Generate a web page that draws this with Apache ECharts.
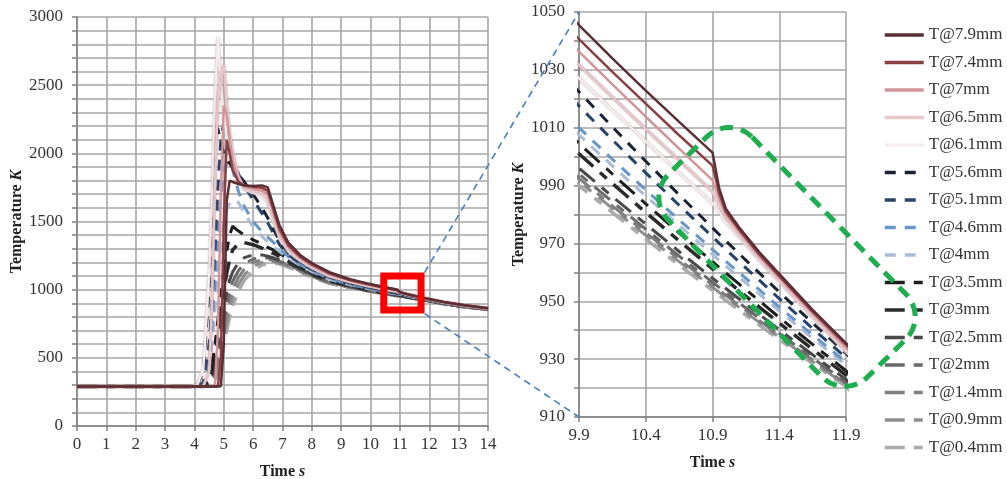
<!DOCTYPE html>
<html>
<head>
<meta charset="utf-8">
<script src="https://cdn.jsdelivr.net/npm/echarts@6/dist/echarts.min.js"></script>
<style>
  html, body { margin: 0; background: #fff; }
  #chart { width: 1007px; height: 479px; }
</style>
</head>
<body>
<div id="chart"></div>
<script>
// time points (s) shared by every curve
const times = [0, 3.9, 4.1, 4.3, 4.5, 4.6, 4.7, 4.8, 4.9, 5.0,
  5.1, 5.2, 5.3, 5.5, 5.7, 6.0, 6.3, 6.5, 6.7, 6.9,
  7.2, 7.6, 8.0, 8.6, 9.3, 9.9, 10.15, 10.4, 10.65, 10.9,
  10.95, 11.0, 11.1, 11.25, 11.4, 11.65, 11.9, 12.5, 13.2, 14];

// temperature (K) at each depth
const t7_9 = [290, 290, 290, 290, 290, 290, 290, 290, 292, 600,
  1650, 1800, 1790, 1775, 1765, 1760, 1765, 1750, 1610, 1470,
  1345, 1255, 1195, 1128, 1076, 1045.5, 1034, 1022.8, 1012, 1001.4,
  989, 982, 975.5, 967, 959.5, 947, 935.5, 910, 886, 864];
const t7_4 = [290, 290, 290, 290, 290, 290, 290, 292, 500, 1500,
  2100, 2000, 1880, 1790, 1765, 1755, 1748, 1725, 1585, 1445,
  1325, 1242, 1185, 1120, 1071, 1040.6, 1029.3, 1018.3, 1007.4, 996.9,
  987.5, 981, 974.8, 966.3, 958.8, 946.4, 935, 908.5, 885, 863];
const t7 = [290, 290, 290, 290, 290, 290, 300, 700, 1700, 2350,
  2280, 2100, 1950, 1800, 1755, 1740, 1728, 1700, 1555, 1420,
  1310, 1232, 1176, 1112, 1066, 1036.3, 1025, 1013.8, 1002.8, 991.9,
  985.5, 980, 974, 965.6, 958.2, 945.8, 934, 907.5, 884, 862];
const t6_5 = [290, 290, 290, 292, 400, 900, 1800, 2400, 2560, 2650,
  2350, 2150, 2010, 1830, 1745, 1725, 1708, 1670, 1525, 1400,
  1295, 1222, 1168, 1105, 1061, 1031.7, 1020.6, 1009.6, 998.7, 987.9,
  983.5, 979, 973.2, 965, 957.5, 945, 933, 906.5, 883, 861];
const t6_1 = [290, 290, 300, 420, 1100, 1700, 2400, 2850, 2500, 2280,
  2130, 2020, 1930, 1800, 1735, 1710, 1688, 1640, 1495, 1380,
  1280, 1212, 1160, 1098, 1056, 1027.1, 1016.1, 1005.3, 994.5, 983.9,
  981, 977.5, 972.2, 964.2, 956.8, 944.4, 932.5, 905.5, 882, 860];
const t5_6 = [290, 290, 295, 400, 1000, 1600, 2200, 2180, 2080, 2000,
  1960, 1925, 1895, 1845, 1790, 1700, 1600, 1525, 1440, 1355,
  1268, 1205, 1158, 1098, 1053, 1022.4, 1010.3, 998.4, 986.8, 975.4,
  973.1, 970.9, 966.4, 959.8, 953.2, 942.5, 932, 904, 881, 859.5];
const t5_1 = [290, 290, 290, 320, 600, 900, 1300, 1750, 2100, 2230,
  2200, 2080, 1960, 1850, 1760, 1660, 1560, 1490, 1410, 1330,
  1255, 1193, 1148, 1090, 1046, 1017.5, 1005.8, 994.4, 983.2, 972.3,
  970.1, 967.9, 963.6, 957.3, 950.9, 940.6, 930.5, 902.5, 880, 859];
const t4_6 = [290, 290, 290, 310, 500, 750, 1050, 1400, 1700, 1850,
  1930, 1950, 1880, 1720, 1610, 1500, 1425, 1385, 1345, 1300,
  1242, 1184, 1138, 1080, 1038, 1010, 999.1, 988.5, 978.1, 967.9,
  965.9, 963.8, 959.9, 954, 948, 938.4, 929, 901, 879, 858.5];
const t4 = [290, 290, 290, 305, 420, 600, 850, 1100, 1320, 1480,
  1580, 1640, 1660, 1640, 1560, 1460, 1390, 1350, 1315, 1280,
  1232, 1177, 1132, 1076, 1035, 1007.5, 996.8, 986.4, 976.2, 966.2,
  964.2, 962.2, 958.3, 952.5, 946.7, 937.2, 928, 900, 878, 858];
const t3_5 = [290, 290, 290, 300, 360, 450, 600, 780, 960, 1130,
  1280, 1400, 1465, 1430, 1400, 1365, 1335, 1310, 1290, 1265,
  1226, 1172, 1127, 1072, 1032, 1004.5, 994, 983.7, 973.6, 963.7,
  961.7, 959.8, 955.9, 950.2, 944.4, 935.1, 926, 899, 877, 857.5];
const t3 = [290, 290, 290, 295, 330, 400, 520, 670, 830, 990,
  1120, 1220, 1290, 1340, 1345, 1330, 1305, 1285, 1265, 1243,
  1208, 1160, 1117, 1065, 1028, 1001, 990.7, 980.7, 970.9, 961.2,
  959.3, 957.4, 953.6, 948, 942.5, 933.4, 924.5, 898, 876, 857];
const t2_5 = [290, 290, 290, 293, 315, 360, 450, 580, 720, 860,
  980, 1070, 1130, 1200, 1235, 1255, 1255, 1245, 1232, 1218,
  1192, 1150, 1110, 1060, 1022, 996, 986.2, 976.7, 967.2, 958,
  956.2, 954.4, 950.8, 945.5, 940.2, 931.5, 923, 897, 875, 856];
const t2 = [290, 290, 290, 291, 305, 340, 410, 520, 650, 780,
  900, 990, 1060, 1140, 1190, 1225, 1235, 1232, 1222, 1208,
  1183, 1143, 1104, 1055, 1019, 994, 984.4, 974.9, 965.6, 956.6,
  954.8, 953, 949.4, 944.2, 938.9, 930.4, 922, 896.5, 874.5, 855.5];
const t1_4 = [290, 290, 290, 290, 300, 325, 380, 470, 590, 710,
  830, 920, 1000, 1090, 1150, 1200, 1220, 1222, 1215, 1202,
  1178, 1138, 1100, 1052, 1017, 992.5, 983, 973.7, 964.5, 955.6,
  953.8, 952.1, 948.5, 943.4, 938.2, 929.7, 921.5, 896, 874, 855];
const t0_9 = [290, 290, 290, 290, 297, 315, 355, 430, 530, 650,
  760, 860, 940, 1040, 1110, 1170, 1200, 1208, 1205, 1195,
  1172, 1133, 1096, 1049, 1015, 991.5, 982.1, 972.8, 963.7, 954.8,
  953.1, 951.3, 947.9, 942.7, 937.6, 929.2, 921, 895.5, 873.5, 854.5];
const t0_4 = [290, 290, 290, 290, 295, 308, 335, 390, 480, 590,
  700, 800, 880, 990, 1070, 1140, 1180, 1195, 1196, 1188,
  1166, 1128, 1092, 1046, 1013, 990, 980.7, 971.5, 962.5, 953.8,
  952.1, 950.3, 946.9, 941.8, 936.8, 928.5, 920.5, 895, 873, 854];

const names = ['T@7.9mm', 'T@7.4mm', 'T@7mm', 'T@6.5mm', 'T@6.1mm',
  'T@5.6mm', 'T@5.1mm', 'T@4.6mm', 'T@4mm', 'T@3.5mm', 'T@3mm',
  'T@2.5mm', 'T@2mm', 'T@1.4mm', 'T@0.9mm', 'T@0.4mm'];
const curves = [t7_9, t7_4, t7, t6_5, t6_1, t5_6, t5_1, t4_6, t4,
  t3_5, t3, t2_5, t2, t1_4, t0_9, t0_4];

const dash = [11, 9];
const longDash = [20, 9, 9, 9];
const styles = [
  {color: '#5a2e33', width: 2.5, type: 'solid'},
  {color: '#8a3f44', width: 2.5, type: 'solid'},
  {color: '#d09499', width: 2.5, type: 'solid'},
  {color: '#e6c8cb', width: 2.5, type: 'solid', shadow: 'rgba(170,120,128,0.9)'},
  {color: '#f6ecee', width: 2.5, type: 'solid', shadow: 'rgba(170,150,155,0.9)'},
  {color: '#1b2333', width: 3, type: dash},
  {color: '#27436b', width: 3, type: dash},
  {color: '#6a95c8', width: 3, type: dash},
  {color: '#a9bcd6', width: 3, type: dash},
  {color: '#1e1e1e', width: 3, type: longDash},
  {color: '#2b2b2b', width: 3.5, type: longDash},
  {color: '#4a4a4a', width: 3, type: longDash},
  {color: '#6a6a6a', width: 3, type: longDash},
  {color: '#7f7f7f', width: 3, type: longDash},
  {color: '#8e8e8e', width: 3, type: longDash},
  {color: '#aaaaaa', width: 3.5, type: longDash}
];

const font = 'Liberation Serif, Times New Roman, serif';
const gridColor = '#a6a6a6';
const axisColor = '#808080';

function pairs(vals) {
  return times.map((t, i) => [t, vals[i]]);
}

const series = [];
for (let g = 0; g < 2; g++) {
  for (let i = curves.length - 1; i >= 0; i--) {
    const st = styles[i];
    const lineStyle = {color: st.color, width: st.width, type: st.type};
    if (st.shadow) {
      lineStyle.shadowColor = st.shadow;
      lineStyle.shadowBlur = 2;
    }
    series.push({
      name: names[i],
      type: 'line',
      xAxisIndex: g,
      yAxisIndex: g,
      symbol: 'none',
      clip: true,
      color: st.color,
      lineStyle: lineStyle,
      data: pairs(curves[i])
    });
  }
}
// red box on the left plot marking the zoomed window
series[0].markArea = {
  silent: true,
  z: 10,
  itemStyle: {color: 'rgba(0,0,0,0)', borderColor: '#ff0000', borderWidth: 7},
  data: [[{coord: [10.45, 1100]}, {coord: [11.72, 850]}]]
};

const nameRich = {
  b: {fontFamily: font, fontWeight: 'bold', fontSize: 16, color: '#222'},
  i: {fontFamily: font, fontWeight: 'bold', fontStyle: 'italic', fontSize: 16, color: '#222'}
};

function xAxis(grid, min, max, interval, gap) {
  return {
    type: 'value', gridIndex: grid, min: min, max: max, interval: interval,
    axisLine: {show: true, lineStyle: {color: axisColor, width: 1.5}},
    axisTick: {show: true, length: 5, lineStyle: {color: axisColor, width: 1.5}},
    axisLabel: {fontFamily: font, fontSize: 17, color: '#333', margin: 10,
                formatter: v => String(Math.round(v * 10) / 10)},
    splitLine: {show: true, lineStyle: {color: gridColor, width: 1.6}},
    name: '{b|Time }{i|s}', nameLocation: 'middle', nameGap: gap,
    nameTextStyle: {rich: nameRich}
  };
}
function yAxis(grid, min, max, interval, minor, gap) {
  return {
    type: 'value', gridIndex: grid, min: min, max: max, interval: interval,
    axisLine: {show: true, lineStyle: {color: axisColor, width: 1.5}},
    axisTick: {show: true, length: 5, lineStyle: {color: axisColor, width: 1.5}},
    minorTick: {show: true, splitNumber: minor, length: 5, lineStyle: {color: axisColor, width: 1.5}},
    minorSplitLine: {show: true, lineStyle: {color: gridColor, width: 1.6}},
    axisLabel: {fontFamily: font, fontSize: 17, color: '#333', margin: 14,
                formatter: v => String(Math.round(v))},
    splitLine: {show: true, lineStyle: {color: gridColor, width: 1.6}},
    name: '{b|Temperature }{i|K}', nameLocation: 'middle', nameGap: gap, nameRotate: 90,
    nameTextStyle: {rich: nameRich}
  };
}

const option = {
  animation: false,
  backgroundColor: '#fff',
  grid: [
    {left: 77, top: 17, width: 411, height: 409, outerBoundsMode: 'none'},
    {left: 579, top: 12, width: 267, height: 405, outerBoundsMode: 'none'}
  ],
  xAxis: [xAxis(0, 0, 14, 1, 38), xAxis(1, 9.9, 11.9, 0.5, 38)],
  yAxis: [yAxis(0, 0, 3000, 500, 5, 52), yAxis(1, 910, 1050, 20, 2, 52)],
  legend: {
    data: names,
    orient: 'vertical',
    left: 883,
    top: 26.5,
    padding: 0,
    itemWidth: 39,
    itemHeight: 16,
    itemGap: 10.5,
    itemStyle: {opacity: 0},
    lineStyle: {width: 3.5},
    textStyle: {fontFamily: font, fontSize: 17, color: '#333'}
  },
  series: series
};

const chart = echarts.init(document.getElementById('chart'));
chart.setOption(option);

// dashed connector lines from the red box to the zoomed plot, plus the green outline
const boxTop = chart.convertToPixel({gridIndex: 0}, [11.72, 1100]);
const boxBottom = chart.convertToPixel({gridIndex: 0}, [11.72, 850]);
const zoomTop = chart.convertToPixel({gridIndex: 1}, [9.9, 1050]);
const zoomBottom = chart.convertToPixel({gridIndex: 1}, [9.9, 910]);
const blueLine = {stroke: '#4a7ebb', lineWidth: 1.6, lineDash: [7, 5]};
chart.setOption({
  graphic: [
    {type: 'line', z: 20, silent: true,
     shape: {x1: boxTop[0] + 3.5, y1: boxTop[1] - 3.5, x2: zoomTop[0], y2: zoomTop[1]},
     style: blueLine},
    {type: 'line', z: 20, silent: true,
     shape: {x1: boxBottom[0] + 3.5, y1: boxBottom[1] + 3.5, x2: zoomBottom[0], y2: zoomBottom[1]},
     style: blueLine},
    {type: 'rect', z: 30, silent: true,
     x: 787, y: 257, rotation: -0.796,
     shape: {x: -142, y: -59, width: 284, height: 118, r: 32},
     style: {fill: 'none', stroke: '#1fae4f', lineWidth: 5, lineDash: [13, 8]}}
  ]
});
</script>
</body>
</html>
